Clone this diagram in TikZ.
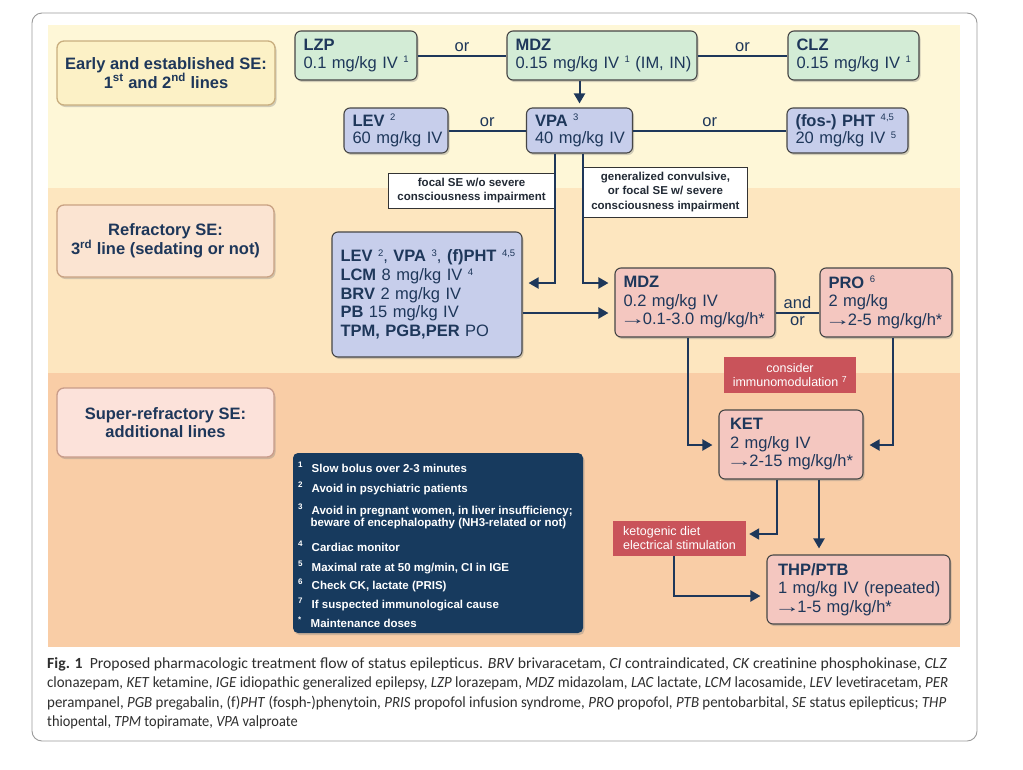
\documentclass[tikz,border=0pt]{standalone}
\usepackage{fontspec}
\setmainfont{Liberation Sans}
\newfontfamily\capfont{Carlito}
\usepackage{graphicx}
\usetikzlibrary{arrows.meta,shadows}
\definecolor{bandA}{HTML}{FEF7D7}
\definecolor{bandB}{HTML}{FDE6BF}
\definecolor{bandC}{HTML}{F9CDA6}
\definecolor{stA}{HTML}{FCF1C6}
\definecolor{stAb}{HTML}{C9AE7F}
\definecolor{stB}{HTML}{FBE4D2}
\definecolor{stBb}{HTML}{C9A283}
\definecolor{stC}{HTML}{FCE2DA}
\definecolor{stCb}{HTML}{C99C8A}
\definecolor{cgreen}{HTML}{D3ECD6}
\definecolor{cblue}{HTML}{C7CEEB}
\definecolor{cpink}{HTML}{F4C7C0}
\definecolor{bord}{HTML}{464646}
\definecolor{cred}{HTML}{C9535A}
\definecolor{legbg}{HTML}{173A5E}
\definecolor{navy}{HTML}{1E375A}
\definecolor{capgray}{HTML}{2E2E2E}
\definecolor{condtext}{HTML}{222A35}
\definecolor{framegray}{HTML}{9A9A9A}
\newcommand\oneln[1]{\mbox{#1}}
\newcommand\rarr{\kern-4pt\scalebox{1.6}[1]{→}\kern-3pt}
\newcommand\sups[1]{\raisebox{5.5pt}{\mdseries\fontsize{9.5}{10}\selectfont #1}}
\begin{document}
\begin{tikzpicture}[x=1pt,y=-1pt,
  shd/.style={drop shadow={shadow xshift=1.5pt,shadow yshift=-2pt,opacity=0.35}},
  conn/.style={draw=navy, line width=2pt},
  arr/.style={conn, -{Triangle[length=10pt,width=11pt]}, shorten >=6pt},
  sz/.style n args={3}{minimum width=#1pt, minimum height=#2pt, text width=#3pt},
  drug/.style={draw=bord, line width=1.1pt, rounded corners=6pt, text=navy, align=left, inner xsep=8.5pt, inner ysep=0pt, font=\fontsize{16.5}{17.5}\selectfont, shd},
  gbox/.style={drug, fill=cgreen},
  bbox/.style={drug, fill=cblue},
  pbox/.style={drug, fill=cpink, font=\fontsize{16.5}{18.5}\selectfont},
  stage/.style={rounded corners=7pt, line width=1.3pt, text=navy, align=center, inner sep=0pt, font=\bfseries\fontsize{16.5}{18.5}\selectfont, shd},
  cond/.style={draw=black!80, line width=0.8pt, fill=white, text=condtext, align=center, inner sep=0pt, font=\bfseries\fontsize{11.5}{14.5}\selectfont},
  redbox/.style={fill=cred, text=white, inner sep=0pt, font=\fontsize{12.5}{14}\selectfont},
  ortxt/.style={text=navy, font=\fontsize{16.5}{18}\selectfont, inner sep=3pt},
  legt/.style={anchor=base west, inner sep=0pt, text=white, font=\bfseries\fontsize{11.5}{13}\selectfont},
  legs/.style={anchor=base west, inner sep=0pt, text=white, font=\bfseries\fontsize{8}{9}\selectfont},
  capl/.style={anchor=base west, inner sep=0pt, text=capgray, font=\capfont\fontsize{15.5}{18}\selectfont}
]
\useasboundingbox (0,0) rectangle (1023,769);
\fill[white] (0,0) rectangle (1023,769);
% bands
\fill[bandA] (48,25) rectangle (960,188);
\fill[bandB] (48,188) rectangle (960,373);
\fill[bandC] (48,373) rectangle (960,647);
\draw[framegray, line width=0.9pt, rounded corners=10pt] (32,13) rectangle (977,741);

% stage labels
\node[stage, fill=stA, draw=stAb, minimum width=218pt, minimum height=64pt] (s1) at (166,73) {Early and established SE:\\1\textsuperscript{st} and 2\textsuperscript{nd} lines};
\node[stage, fill=stB, draw=stBb, minimum width=217pt, minimum height=72pt] (s2) at (165.5,241) {Refractory SE:\\3\textsuperscript{rd} line (sedating or not)};
\node[stage, fill=stC, draw=stCb, minimum width=217pt, minimum height=69pt] (s3) at (165.5,422.5) {Super-refractory SE:\\additional lines};

% first line
\node[gbox, sz={122}{49}{105}] (lzp) at (356,55.5) {\oneln{\textbf{LZP}}\\\oneln{0.1 mg/kg IV \sups{1}}};
\node[gbox, sz={190}{49}{173}] (mdz1) at (602,55.5) {\oneln{\textbf{MDZ}}\\\oneln{0.15 mg/kg IV \sups{1} (IM, IN)}};
\node[gbox, sz={131}{49}{114}] (clz) at (853.5,55.5) {\oneln{\textbf{CLZ}}\\\oneln{0.15 mg/kg IV \sups{1}}};
% second line
\node[bbox, sz={104}{45}{87}] (lev) at (396,130.5) {\oneln{\textbf{LEV} \sups{2}}\\\oneln{60 mg/kg IV}};
\node[bbox, sz={106}{45}{89}] (vpa) at (579.5,130.5) {\oneln{\textbf{VPA} \sups{3}}\\\oneln{40 mg/kg IV}};
\node[bbox, sz={121}{45}{104}] (pht) at (847.5,130.5) {\oneln{\textbf{(fos-) PHT} \sups{4,5}}\\\oneln{20 mg/kg IV \sups{5}}};
% third line
\node[bbox, sz={190}{125}{173}, font=\fontsize{16.5}{18.7}\selectfont] (big) at (427,294.5) {\oneln{\textbf{LEV} \sups{2}, \textbf{VPA} \sups{3}, \textbf{(f)PHT} \sups{4,5}}\\\oneln{\textbf{LCM} 8 mg/kg IV \sups{4}}\\\oneln{\textbf{BRV} 2 mg/kg IV}\\\oneln{\textbf{PB} 15 mg/kg IV}\\\oneln{\textbf{TPM, PGB,PER} PO}};
\node[pbox, sz={160}{69}{143}] (mdz2) at (695,302.5) {\oneln{\textbf{MDZ}}\\\oneln{0.2 mg/kg IV}\\\oneln{\rarr0.1-3.0 mg/kg/h*}};
\node[pbox, sz={132}{69}{115}] (pro) at (886,302.5) {\oneln{\textbf{PRO} \sups{6}}\\\oneln{2 mg/kg}\\\oneln{\rarr2-5 mg/kg/h*}};
% additional lines
\node[pbox, sz={144}{69}{122}, inner xsep=11pt] (ket) at (791,444.5) {\oneln{\textbf{KET}}\\\oneln{2 mg/kg IV}\\\oneln{\rarr2-15 mg/kg/h*}};
\node[pbox, sz={183}{69}{161}, inner xsep=11pt] (thp) at (858.5,589.5) {\oneln{\textbf{THP/PTB}}\\\oneln{1 mg/kg IV (repeated)}\\\oneln{\rarr1-5 mg/kg/h*}};

% red notes
\node[redbox, minimum width=132pt, minimum height=36pt, align=center] (immu) at (790,375) {consider\\immunomodulation \textsuperscript{7}};
\node[redbox, minimum width=133pt, minimum height=35pt, align=left] (keto) at (679.5,538.5) {ketogenic diet\\electrical stimulation};

% coordinates for bends
\coordinate (fx) at (555,0);
\coordinate (gx) at (583,0);
\coordinate (ya) at (0,283);
\coordinate (yb) at (0,313);
\coordinate (kx1) at (688,0);
\coordinate (kx2) at (893,0);
\coordinate (yk) at (0,445);
\coordinate (kx3) at (777,0);
\coordinate (kx4) at (819,0);
\coordinate (kx5) at (674,0);
\coordinate (yk2) at (0,534);
\coordinate (yk3) at (0,596);
% condition labels
\node[cond, minimum width=166pt, minimum height=35pt, anchor=east] (focal) at (555,190.5) {focal SE w/o severe\\consciousness impairment};
\node[cond, minimum width=164pt, minimum height=50pt, anchor=west] (gen) at (583,192) {generalized convulsive,\\or focal SE w/ severe\\consciousness impairment};

% connectors
\draw[conn] (lzp) -- node[ortxt, above]{or} (mdz1);
\draw[conn] (mdz1) -- node[ortxt, above]{or} (clz);
\draw[conn] (lev) -- node[ortxt, above]{or} (vpa);
\draw[conn] (vpa) -- node[ortxt, above]{or} (pht);
\draw[arr, shorten >=4pt] (vpa.north |- mdz1.south) -- (vpa.north);
\draw[arr] (vpa.south -| fx) |- (big.east |- ya);
\draw[arr] (vpa.south -| gx) |- (mdz2.west |- ya);
\draw[arr] (big.east |- yb) -- (mdz2.west |- yb);
\draw[conn] (mdz2.east |- yb) -- node[ortxt, above]{and} node[ortxt, below]{or} (pro.west |- yb);
\draw[arr] (mdz2.south -| kx1) |- (ket.west |- yk);
\draw[arr] (pro.south -| kx2) |- (ket.east |- yk);
\draw[arr, shorten >=3pt] (ket.south -| kx3) |- (keto.east |- yk2);
\draw[arr] (ket.south -| kx4) -- (thp.north -| kx4);
\draw[arr] (keto.south -| kx5) |- (thp.west |- yk3);

% legend
\node[fill=legbg, rounded corners=5pt, minimum width=290pt, minimum height=180pt, shd] (leg) at (438,543) {};
\node[legs] (n1) at (298,467.5) {1};
\node[legt] (t1) at (311.5,472.5) {Slow bolus over 2-3 minutes};
\node[legs] (n2) at (298,487.5) {2};
\node[legt] (t2) at (311.5,492.5) {Avoid in psychiatric patients};
\node[legs] (n3) at (298,509.5) {3};
\node[legt] (t3) at (311.5,514.5) {Avoid in pregnant women, in liver insufficiency;};
\node[legt] (t3b) at (310.5,526.5) {beware of encephalopathy (NH3-related or not)};
\node[legs] (n4) at (298,546.5) {4};
\node[legt] (t4) at (311.5,551.5) {Cardiac monitor};
\node[legs] (n5) at (298,566.5) {5};
\node[legt] (t5) at (311.5,571.5) {Maximal rate at 50 mg/min, CI in IGE};
\node[legs] (n6) at (298,584.5) {6};
\node[legt] (t6) at (311.5,589.5) {Check CK, lactate (PRIS)};
\node[legs] (n7) at (298,603.5) {7};
\node[legt] (t7) at (311.5,608.5) {If suspected immunological cause};
\node[legs] (n8) at (298,622.5) {*};
\node[legt] (t8) at (310.5,627.5) {Maintenance doses};

% caption
\node[capl] (c1) at (47,668) {\resizebox{900pt}{\height}{\textbf{Fig. 1}\hspace{7pt}Proposed pharmacologic treatment flow of status epilepticus. \textit{BRV} brivaracetam, \textit{CI} contraindicated, \textit{CK} creatinine phosphokinase, \textit{CLZ}}};
\node[capl] (c2) at (47,687.6) {\resizebox{901pt}{\height}{clonazepam, \textit{KET} ketamine, \textit{IGE} idiopathic generalized epilepsy, \textit{LZP} lorazepam, \textit{MDZ} midazolam, \textit{LAC} lactate, \textit{LCM} lacosamide, \textit{LEV} levetiracetam, \textit{PER}}};
\node[capl] (c3) at (47,707.2) {\resizebox{899pt}{\height}{perampanel, \textit{PGB} pregabalin, (f)\textit{PHT} (fosph-)phenytoin, \textit{PRIS} propofol infusion syndrome, \textit{PRO} propofol, \textit{PTB} pentobarbital, \textit{SE} status epilepticus; \textit{THP}}};
\node[capl] (c4) at (47,726.8) {\scalebox{0.93}[1]{thiopental, \textit{TPM} topiramate, \textit{VPA} valproate}};
\end{tikzpicture}
\end{document}
